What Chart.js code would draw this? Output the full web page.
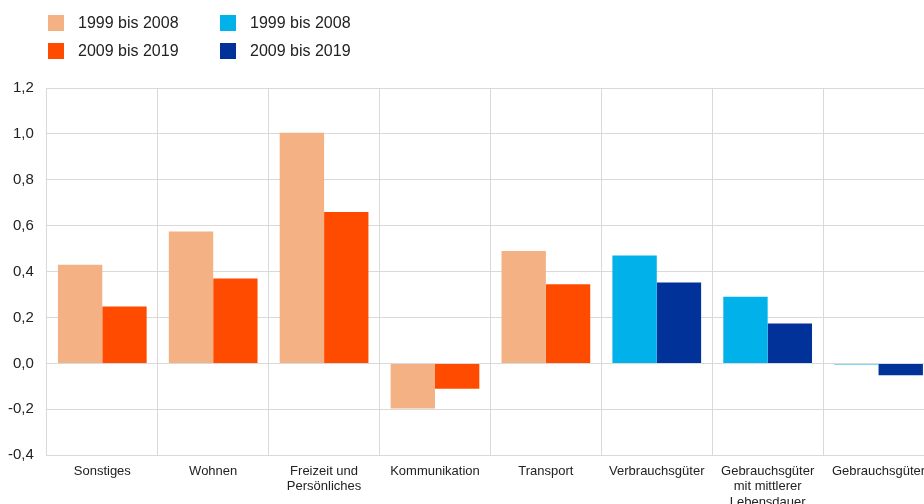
<!DOCTYPE html>
<html>
<head>
<meta charset="utf-8">
<script src="https://cdn.jsdelivr.net/npm/chart.js@4/dist/chart.umd.min.js"></script>
<style>
  body { margin: 0; overflow: hidden; background: #fff; font-family: "Liberation Sans", Arial, sans-serif; }
  #wrap { position: absolute; left: -9px; top: 0; width: 945px; height: 518px; }
  #legend { position: absolute; left: 0; top: 0; width: 924px; height: 70px; }
  .item { position: absolute; font-size: 16px; color: #222; white-space: nowrap; }
  .item span.box { position: absolute; left: 0; top: 1px; width: 16px; height: 16px; }
  .item span.txt { position: absolute; left: 30px; top: 0; line-height: 18px; }
</style>
</head>
<body>
<div id="wrap"><canvas id="chart"></canvas></div>
<div id="legend"></div>
<script>
const categories = [
  "Sonstiges",
  "Wohnen",
  ["Freizeit und", "Persönliches"],
  "Kommunikation",
  "Transport",
  "Verbrauchsgüter",
  ["Gebrauchsgüter", "mit mittlerer", "Lebensdauer"],
  "Gebrauchsgüter"
];
const periodLabels = ["1999 bis 2008", "2009 bis 2019"];

// services (orange) and goods (blue)
const servicesEarly = [0.43, 0.575, 1.005, -0.196, 0.49, null, null, null];
const servicesLate  = [0.248, 0.37, 0.66, -0.11, 0.345, null, null, null];
const goodsEarly    = [null, null, null, null, null, 0.47, 0.29, -0.005];
const goodsLate     = [null, null, null, null, null, 0.353, 0.174, -0.052];

const yTicks = { min: -0.4, max: 1.2, step: 0.2 };

const color = {
  LightOrange: "#F4B183",
  Orange: "#FF4B00",
  LightBlue: "#00B1EA",
  Blue: "#003299",
  Grid: "#d9d9d9",
  Text: "#222222",
};

const chartData = {
  labels: categories,
  datasets: [
    { label: periodLabels[0], data: servicesEarly, backgroundColor: color.LightOrange, stack: "early" },
    { label: periodLabels[0], data: goodsEarly, backgroundColor: color.LightBlue, stack: "early" },
    { label: periodLabels[1], data: servicesLate, backgroundColor: color.Orange, stack: "late" },
    { label: periodLabels[1], data: goodsLate, backgroundColor: color.Blue, stack: "late" },
  ],
};

// legend laid out in two columns like the original
const legendPos = [[48, 14], [220, 14], [48, 42], [220, 42]];
const legend = document.getElementById("legend");
chartData.datasets.forEach((ds, i) => {
  const el = document.createElement("div");
  el.className = "item";
  el.style.left = legendPos[i][0] + "px";
  el.style.top = legendPos[i][1] + "px";
  el.innerHTML = '<span class="box" style="background:' + ds.backgroundColor + '"></span><span class="txt">' + ds.label + '</span>';
  legend.appendChild(el);
});

const chartConfig = {
  type: "bar",
  data: chartData,
  options: {
    responsive: true,
    maintainAspectRatio: false,
    animation: false,
    categoryPercentage: 0.8,
    barPercentage: 1.0,
    layout: { padding: { top: 88, right: 2, left: 4, bottom: 0 } },
    plugins: {
      legend: { display: false },
      tooltip: { enabled: false },
    },
    scales: {
      x: {
        grid: { color: color.Grid, drawTicks: false, offset: true },
        border: { color: color.Grid },
        ticks: {
          color: color.Text,
          font: { family: "'Liberation Sans', Arial", size: 13 },
          maxRotation: 0,
          autoSkip: false,
          padding: 8,
        },
      },
      y: {
        min: yTicks.min,
        max: yTicks.max,
        grid: { color: color.Grid, drawTicks: false },
        border: { color: color.Grid },
        ticks: {
          stepSize: yTicks.step,
          color: color.Text,
          font: { family: "'Liberation Sans', Arial", size: 15 },
          padding: 13,
          callback: (v) => v.toFixed(1).replace(".", ","),
        },
      },
    },
  },
};

new Chart(document.getElementById("chart"), chartConfig);
</script>
</body>
</html>
